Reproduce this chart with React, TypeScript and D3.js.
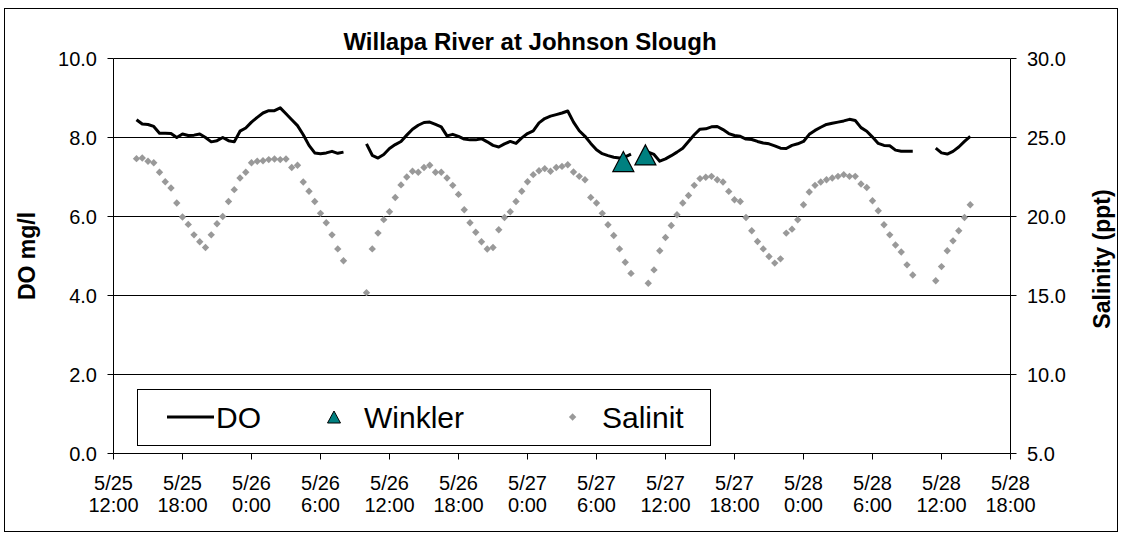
import * as d3 from 'd3';

// readings every 30 minutes, starting 5/25 14:00
const firstReading = '2004/05/25 14:00';
const stepMinutes = 30;

const doValues: (number | null)[] = [
  8.45, 8.34, 8.33, 8.28, 8.11, 8.11, 8.1, 8.0, 8.09, 8.05,
  8.06, 8.09, 8.0, 7.89, 7.92, 8.0, 7.92, 7.89, 8.16, 8.24,
  8.39, 8.51, 8.62, 8.68, 8.68, 8.75, 8.6, 8.45, 8.3, 8.07,
  7.8, 7.61, 7.59, 7.61, 7.65, 7.6, 7.63, null, null, null,
  7.84, 7.55, 7.48, 7.57, 7.72, 7.82, 7.9, 8.06, 8.21, 8.31,
  8.38, 8.39, 8.33, 8.27, 8.04, 8.08, 8.03, 7.96, 7.94, 7.94,
  7.97, 7.89, 7.8, 7.76, 7.84, 7.9, 7.85, 7.99, 8.1, 8.17,
  8.37, 8.48, 8.54, 8.58, 8.62, 8.67, 8.39, 8.17, 8.03, 7.85,
  7.69, 7.59, 7.54, 7.5, 7.48, 7.51, 7.58, null, null, 7.63,
  7.57, 7.4, 7.46, 7.54, 7.63, 7.73, 7.9, 8.07, 8.21, 8.22,
  8.27, 8.28, 8.2, 8.1, 8.05, 8.03, 7.96, 7.95, 7.9, 7.86,
  7.84, 7.79, 7.73, 7.72, 7.8, 7.84, 7.9, 8.08, 8.18, 8.26,
  8.33, 8.36, 8.39, 8.42, 8.46, 8.43, 8.25, 8.16, 8.01, 7.85,
  7.8, 7.79, 7.68, 7.65, 7.65, 7.65, null, null, null, 7.73,
  7.61, 7.58, 7.65, 7.76, 7.9, 8.03,
];

const salinityValues: (number | null)[] = [
  23.66, 23.7, 23.5, 23.4, 22.8, 22.2, 21.8, 20.85, 19.97, 19.5,
  18.84, 18.4, 18.04, 18.84, 19.54, 20.0, 20.95, 21.7, 22.44, 22.8,
  23.4, 23.5, 23.53, 23.6, 23.64, 23.6, 23.64, 23.1, 23.24, 22.18,
  21.6, 20.95, 20.2, 19.6, 18.84, 17.95, 17.2, null, null, null,
  15.18, 17.95, 18.95, 19.8, 20.3, 21.2, 22.0, 22.5, 22.86, 22.8,
  23.1, 23.24, 22.8, 22.8, 22.44, 21.97, 21.4, 20.43, 19.6, 19.0,
  18.4, 17.94, 18.04, 19.16, 19.94, 20.3, 20.95, 21.6, 22.2, 22.65,
  22.9, 23.03, 22.86, 23.1, 23.17, 23.28, 22.82, 22.54, 22.33, 21.21,
  20.85, 20.2, 19.48, 18.8, 17.95, 17.1, 16.4, null, null, 15.78,
  16.62, 17.83, 18.67, 19.43, 20.11, 20.85, 21.33, 21.97, 22.4, 22.48,
  22.54, 22.33, 22.18, 21.59, 21.06, 20.95, 19.94, 19.1, 18.42, 17.95,
  17.47, 17.05, 17.32, 18.95, 19.2, 19.79, 20.74, 21.55, 21.97, 22.18,
  22.33, 22.44, 22.54, 22.65, 22.54, 22.54, 22.06, 21.84, 21.0, 20.36,
  19.48, 18.84, 18.2, 17.75, 16.94, 16.3, null, null, null, 15.93,
  16.83, 17.83, 18.46, 19.1, 19.94, 20.74,
];

const winklerTimes = ['2004/05/27 08:20', '2004/05/27 10:15'];
const winklerValues = [7.39, 7.56];

const xDomain = ['2004/05/25 12:00', '2004/05/28 18:00'];
const leftTicks = [0, 2, 4, 6, 8, 10];
const rightTicks = [5, 10, 15, 20, 25, 30];

const parse = d3.timeParse('%Y/%m/%d %H:%M');
const font = "'Liberation Sans', Arial, sans-serif";

const tri = (cx: number, cy: number, w: number, h: number) =>
  `M${cx},${cy - h / 2}L${cx + w / 2},${cy + h / 2}L${cx - w / 2},${cy + h / 2}Z`;
const diamond = (cx: number, cy: number, r: number) =>
  `M${cx},${cy - r}L${cx + r},${cy}L${cx},${cy + r}L${cx - r},${cy}Z`;

export default function App() {
  const W = 1123;
  const H = 535;
  const m = { left: 113.5, right: 1010.5, top: 58.5, bottom: 453.5 };

  const x = d3.scaleTime().domain(xDomain.map(s => parse(s) as Date)).range([m.left, m.right]);
  const yL = d3.scaleLinear().domain([0, 10]).range([m.bottom, m.top]);
  const yR = d3.scaleLinear().domain([5, 30]).range([m.bottom, m.top]);

  const t0 = parse(firstReading) as Date;
  const times = doValues.map((_, i) => d3.timeMinute.offset(t0, i * stepMinutes));

  const doLine = d3
    .line<number | null>()
    .defined(d => d != null)
    .x((d, i) => x(times[i]))
    .y(d => yL(d as number));

  const xTicks = x.ticks(d3.timeHour.every(6) as d3.TimeInterval);
  const fmtDay = d3.timeFormat('%-m/%-d');
  const fmtHour = d3.timeFormat('%-H:%M');

  const legY = 417;

  return (
    <div style={{ position: 'absolute', left: 0, top: 0 }}>
      <svg width={W} height={H} style={{ display: 'block', fontFamily: font }}>
        <rect x={0} y={0} width={W} height={H} fill="#fff" />
        <rect x={4.5} y={8.5} width={1113} height={523} fill="none" stroke="#000" />

        {/* gridlines */}
        {leftTicks.filter(v => v > 0).map(v => (
          <line key={v} x1={m.left} x2={m.right} y1={yL(v)} y2={yL(v)} stroke="#000" strokeWidth={1} />
        ))}

        {/* axes */}
        <line x1={m.left} x2={m.left} y1={m.top} y2={m.bottom} stroke="#000" />
        <line x1={m.right} x2={m.right} y1={m.top} y2={m.bottom} stroke="#000" />
        <line x1={m.left} x2={m.right} y1={m.bottom} y2={m.bottom} stroke="#000" />

        {leftTicks.map(v => (
          <g key={v}>
            <line x1={m.left - 6} x2={m.left} y1={yL(v)} y2={yL(v)} stroke="#000" />
            <text x={97} y={yL(v) + 7} textAnchor="end" fontSize={20}>{v.toFixed(1)}</text>
          </g>
        ))}
        {rightTicks.map(v => (
          <g key={v}>
            <line x1={m.right} x2={m.right + 6} y1={yR(v)} y2={yR(v)} stroke="#000" />
            <text x={1027} y={yR(v) + 7} textAnchor="start" fontSize={20}>{v.toFixed(1)}</text>
          </g>
        ))}
        {xTicks.map(t => (
          <g key={+t}>
            <line x1={x(t)} x2={x(t)} y1={m.bottom} y2={m.bottom + 6} stroke="#000" />
            <text x={x(t)} y={490} textAnchor="middle" fontSize={20}>{fmtDay(t)}</text>
            <text x={x(t)} y={512} textAnchor="middle" fontSize={20}>{fmtHour(t)}</text>
          </g>
        ))}

        {/* titles */}
        <text x={530} y={50} textAnchor="middle" fontSize={24} fontWeight="bold">
          Willapa River at Johnson Slough
        </text>
        <text transform="translate(35,256) rotate(-90)" textAnchor="middle" fontSize={23} fontWeight="bold">
          DO mg/l
        </text>
        <text transform="translate(1110,259) rotate(-90)" textAnchor="middle" fontSize={23} fontWeight="bold">
          Salinity (ppt)
        </text>

        {/* salinity */}
        <g fill="#999999">
          {salinityValues.map((v, i) =>
            v == null ? null : <path key={i} d={diamond(x(times[i]), yR(v), 3.7)} />
          )}
        </g>

        {/* DO */}
        <path d={doLine(doValues) ?? ''} fill="none" stroke="#000" strokeWidth={3} strokeLinejoin="round" />

        {/* Winkler */}
        {winklerValues.map((v, i) => (
          <path
            key={i}
            d={tri(x(parse(winklerTimes[i]) as Date), yL(v), 21, 20)}
            fill="#008080"
            stroke="#000"
            strokeWidth={1.2}
          />
        ))}

        {/* legend */}
        <rect x={137.5} y={389.5} width={573} height={56} fill="#fff" stroke="#000" />
        <line x1={167} x2={214} y1={legY} y2={legY} stroke="#000" strokeWidth={3} />
        <text x={216} y={legY + 11} fontSize={30}>DO</text>
        <path d={tri(334, legY, 13, 12)} fill="#008080" stroke="#000" strokeWidth={1} />
        <text x={364} y={legY + 11} fontSize={30}>Winkler</text>
        <path d={diamond(572.6, legY, 3.7)} fill="#999999" />
        <text x={602} y={legY + 11} fontSize={30}>Salinit</text>
      </svg>
    </div>
  );
}
